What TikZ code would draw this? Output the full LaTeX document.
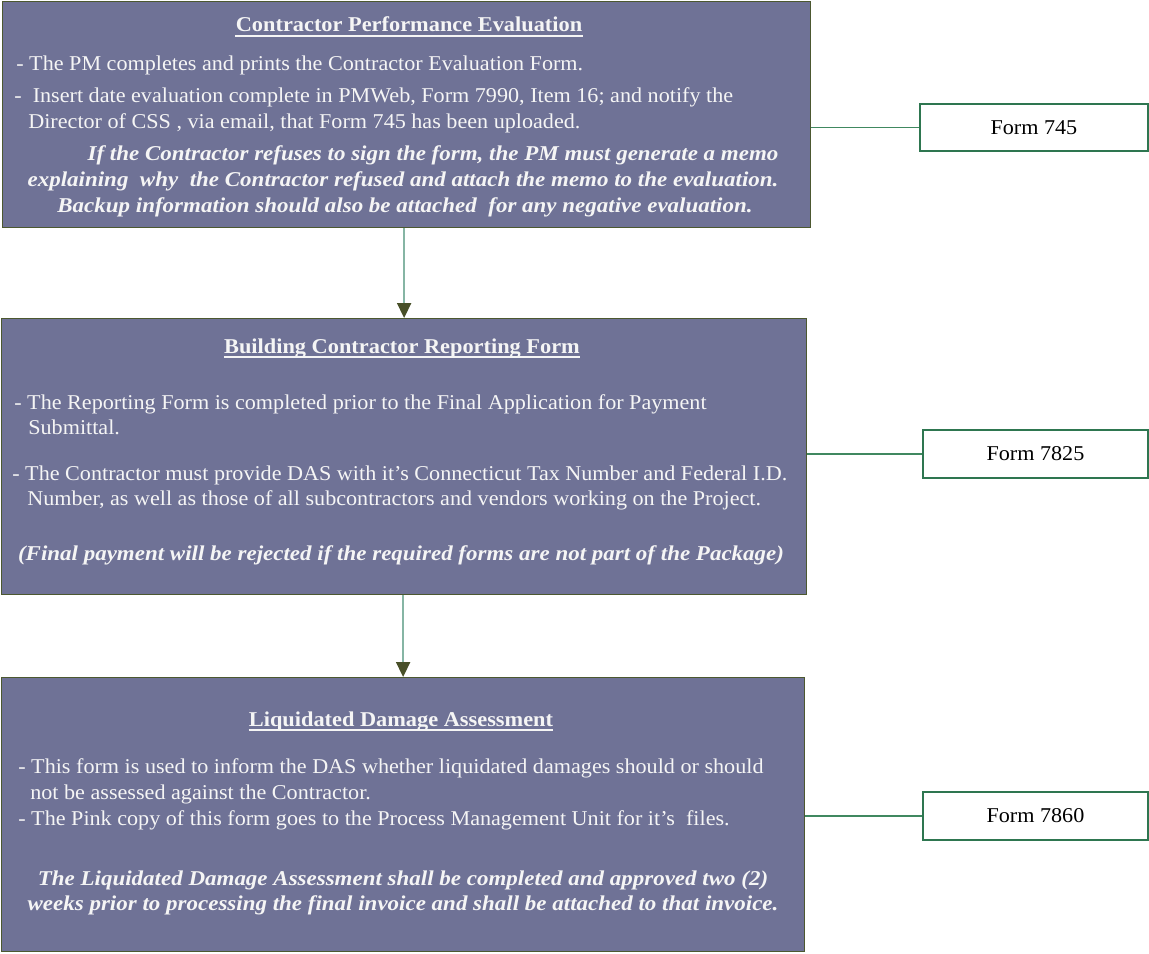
\documentclass[tikz,border=0pt]{standalone}
\usepackage{fontspec}
\setmainfont{Liberation Serif}[FakeStretch=1.05, BoldFeatures={FakeStretch=1.06}, BoldItalicFeatures={FakeStretch=1.09}]
\usetikzlibrary{arrows.meta,positioning,calc}
\definecolor{boxfill}{RGB}{111,114,150}
\definecolor{boxline}{RGB}{76,88,48}
\definecolor{shaft}{RGB}{134,181,164}
\definecolor{tipcol}{RGB}{72,80,40}
\definecolor{formline}{RGB}{46,118,80}
\definecolor{linkline}{RGB}{64,136,96}
\definecolor{boxtext}{RGB}{245,245,245}
\tikzset{
  stagebox/.style={draw=boxline, fill=boxfill, line width=0.8pt, anchor=north west, inner sep=0pt},
  formbox/.style={draw=formline, fill=white, line width=1.1pt, anchor=north west, inner sep=0pt, font=\fontsize{12}{14}\selectfont},
  boxtxt/.style={text=boxtext, inner sep=0pt, font=\fontsize{12}{14}\selectfont},
  headtxt/.style={boxtxt, anchor=base, font=\fontsize{12}{14}\selectfont\bfseries},
  notetxt/.style={boxtxt, anchor=base, font=\fontsize{12}{14}\selectfont\bfseries\itshape},
  linetxt/.style={boxtxt, anchor=base west},
  flow/.style={draw=shaft, line width=1pt, -{Triangle[width=8pt,length=8.5pt,color=tipcol]}},
  link/.style={draw=linkline, line width=0.9pt},
}
\begin{document}
\begin{tikzpicture}[x=0.02cm, y=-0.02cm]
  \useasboundingbox (0,0) rectangle (1149,953);
  % the three stage boxes
  \node[stagebox, minimum width=16.16cm, minimum height=4.52cm] (evalbox) at (2,1) {};
  \node[stagebox, minimum width=16.10cm, minimum height=5.52cm] (reportbox) at (1,318) {};
  \node[stagebox, minimum width=16.06cm, minimum height=5.48cm] (damagebox) at (1,677) {};
  % the form boxes on the right
  \node[formbox, minimum width=4.56cm, minimum height=0.94cm] (formA) at (919,103) {Form 745};
  \node[formbox, minimum width=4.50cm, minimum height=0.96cm] (formB) at (922,429) {Form 7825};
  \node[formbox, minimum width=4.50cm, minimum height=0.96cm] (formC) at (922,791) {Form 7860};
  % Contractor Performance Evaluation
  \node[headtxt] (evalhead) at (409,32) {Contractor Performance Evaluation};
  \node[linetxt] (evalone) at (16,71) {- The PM completes and prints the Contractor Evaluation Form.};
  \node[linetxt] (evaltwo) at (14,103) {-\ \ Insert date evaluation complete in PMWeb, Form 7990, Item 16; and notify the};
  \node[linetxt] (evalthree) at (28,129) {Director of CSS , via email, that Form 745 has been uploaded.};
  \node[notetxt] (evalfour) at (433,160) {If the Contractor refuses to sign the form, the PM must generate a memo};
  \node[notetxt] (evalfive) at (403,186) {explaining\ \ why\ \ the Contractor refused and attach the memo to the evaluation.};
  \node[notetxt] (evalsix) at (405,212) {Backup information should also be attached\ \ for any negative evaluation.};
  % Building Contractor Reporting Form
  \node[headtxt] (reporthead) at (402,353) {Building Contractor Reporting Form};
  \node[linetxt] (reportone) at (14,409) {- The Reporting Form is completed prior to the Final Application for Payment};
  \node[linetxt] (reporttwo) at (28,434) {Submittal.};
  \node[linetxt] (reportthree) at (12,480) {- The Contractor must provide DAS with it's Connecticut Tax Number and Federal I.D.};
  \node[linetxt] (reportfour) at (27,505) {Number, as well as those of all subcontractors and vendors working on the Project.};
  \node[notetxt] (reportfive) at (401,560) {(Final payment will be rejected if the required forms are not part of the Package)};
  % Liquidated Damage Assessment
  \node[headtxt] (damagehead) at (401,726) {Liquidated Damage Assessment};
  \node[linetxt] (damageone) at (18,773) {- This form is used to inform the DAS whether liquidated damages should or should};
  \node[linetxt] (damagetwo) at (30,799) {not be assessed against the Contractor.};
  \node[linetxt] (damagethree) at (18,825) {- The Pink copy of this form goes to the Process Management Unit for it's\ \ files.};
  \node[notetxt] (damagefour) at (403,885) {The Liquidated Damage Assessment shall be completed and approved two (2)};
  \node[notetxt] (damagefive) at (403,910) {weeks prior to processing the final invoice and shall be attached to that invoice.};
  % underline the headings
  \foreach \h in {evalhead,reporthead,damagehead}
    \draw[boxtext, line width=0.6pt] ($(\h.base west)+(0,4)$) -- ($(\h.base east)+(0,4)$);
  % flow between the stages
  \draw[flow] (reportbox.north |- evalbox.south) -- (reportbox.north);
  \draw[flow] (damagebox.north |- reportbox.south) -- (damagebox.north);
  % links to the forms
  \draw[link] (evalbox.east |- formA.west) -- (formA.west);
  \draw[link] (reportbox.east |- formB.west) -- (formB.west);
  \draw[link] (damagebox.east |- formC.west) -- (formC.west);
\end{tikzpicture}
\end{document}
